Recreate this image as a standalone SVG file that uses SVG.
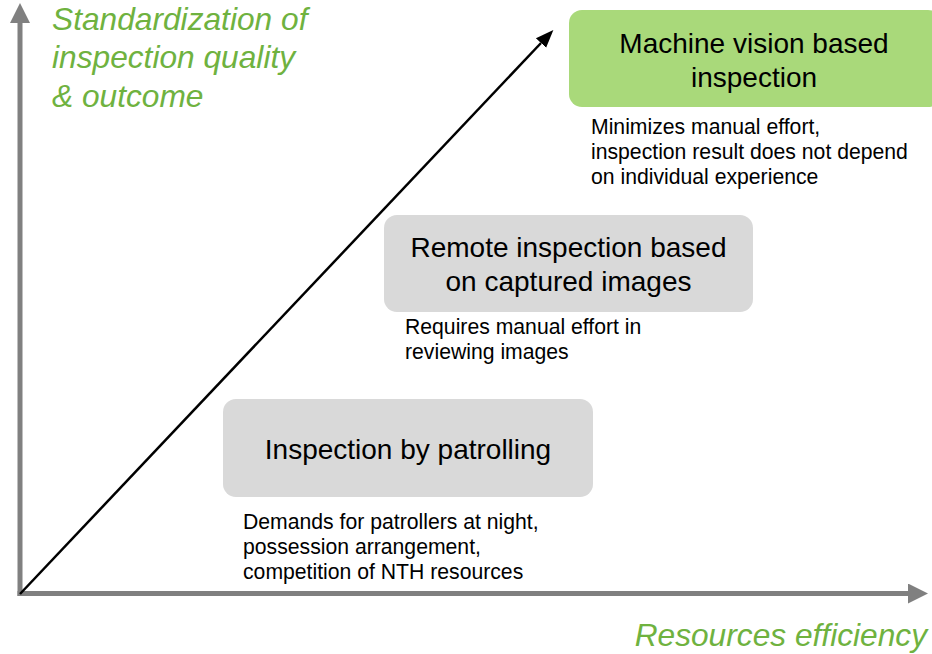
<svg xmlns="http://www.w3.org/2000/svg" width="932" height="654" viewBox="0 0 932 654">
<style>
.axis{stroke:#808080;stroke-width:5;fill:none}
.axlabel{font-family:"Liberation Sans",Arial,sans-serif;font-style:italic;font-size:31.7px;fill:#6FB23F}
.title{font-family:"Liberation Sans",Arial,sans-serif;font-size:28px;fill:#000;text-anchor:middle}
.desc{font-family:"Liberation Sans",Arial,sans-serif;font-size:21.2px;fill:#000}
.grey{fill:#D9D9D9}
.green{fill:#A9D97A}
</style>
<defs>
<marker id="axhead" markerUnits="userSpaceOnUse" markerWidth="20" markerHeight="20" refX="0" refY="9" orient="auto" viewBox="0 0 18 18">
<path d="M0,0 L18,9 L0,18 Z" fill="#808080"/>
</marker>
<marker id="blkhead" markerUnits="userSpaceOnUse" markerWidth="18" markerHeight="16" refX="0" refY="7" orient="auto" viewBox="0 0 18 14">
<path d="M0,0 L18,7 L0,14 Z" fill="#000"/>
</marker>
</defs>
<rect width="932" height="654" fill="#fff"/>
<g id="connectors">
<line class="axis" x1="20" y1="596" x2="20" y2="23" marker-end="url(#axhead)"/>
<line class="axis" x1="17.5" y1="593.5" x2="908" y2="593.5" marker-end="url(#axhead)"/>
<line x1="20" y1="594" x2="541" y2="43" stroke="#000" stroke-width="2.5" marker-end="url(#blkhead)"/>
</g>
<g id="y-axis-label">
<text class="axlabel" x="52" y="30">Standardization of</text>
<text class="axlabel" x="52" y="68">inspection quality</text>
<text class="axlabel" x="52" y="107">&amp; outcome</text>
</g>
<g id="x-axis-label">
<text class="axlabel" x="927" y="646" text-anchor="end">Resources efficiency</text>
</g>
<g id="node-patrolling">
<rect class="grey" x="223" y="399" width="370" height="98" rx="13"/>
<text class="title" x="408" y="459">Inspection by patrolling</text>
<text class="desc" x="243" y="529">Demands for patrollers at night,</text>
<text class="desc" x="243" y="554">possession arrangement,</text>
<text class="desc" x="243" y="579">competition of NTH resources</text>
</g>
<g id="node-remote">
<rect class="grey" x="384" y="215" width="369" height="97" rx="13"/>
<text class="title" x="568.5" y="257">Remote inspection based</text>
<text class="title" x="568.5" y="291">on captured images</text>
<text class="desc" x="405" y="334">Requires manual effort in</text>
<text class="desc" x="405" y="359">reviewing images</text>
</g>
<g id="node-machine-vision">
<rect class="green" x="569" y="10" width="372" height="97" rx="13"/>
<text class="title" x="754" y="53">Machine vision based</text>
<text class="title" x="754" y="87">inspection</text>
<text class="desc" x="591" y="134">Minimizes manual effort,</text>
<text class="desc" x="591" y="159">inspection result does not depend</text>
<text class="desc" x="591" y="184">on individual experience</text>
</g>
</svg>
